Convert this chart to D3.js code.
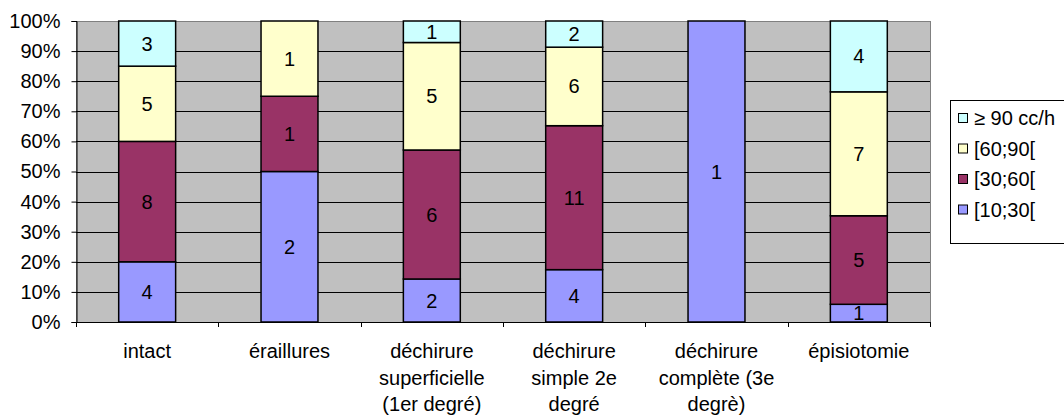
<!DOCTYPE html>
<html>
<head>
<meta charset="utf-8">
<script src="https://cdn.jsdelivr.net/npm/d3@7"></script>
<style>
  body { margin: 0; background: #fff; }
  svg { display: block; font-family: "Liberation Sans", Arial, sans-serif; }
</style>
</head>
<body>
<svg id="chart" width="1064" height="419"></svg>
<script>
// Categories (perineum state), multi-line labels
const categories = ["intact", "éraillures", "déchirure superficielle", "déchirure simple 2e", "déchirure complète", "épisiotomie"];
const categoryLines = [
  ["intact"],
  ["éraillures"],
  ["déchirure", "superficielle", "(1er degré)"],
  ["déchirure", "simple 2e", "degré"],
  ["déchirure", "complète (3e", "degrè)"],
  ["épisiotomie"]
];

// Series, bottom to top of each stack
const seriesNames = ["[10;30[", "[30;60[", "[60;90[", "≥ 90 cc/h"];
const s10_30 = [4, 2, 2, 4, 1, 1];
const s30_60 = [8, 1, 6, 11, 0, 5];
const s60_90 = [5, 1, 5, 6, 0, 7];
const s90plus = [3, 0, 1, 2, 0, 4];
const seriesColors = ["#9999FF", "#993366", "#FFFFCC", "#CCFFFF"];

const yTicks = [0, 0.1, 0.2, 0.3, 0.4, 0.5, 0.6, 0.7, 0.8, 0.9, 1];

const FS = 20;
const svg = d3.select("#chart");
const plot = { left: 76, top: 21, right: 930, bottom: 322 };

const x = d3.scaleBand().domain(categories).range([plot.left, plot.right]).paddingInner(0.6).paddingOuter(0.3);
const xOuter = d3.scaleBand().domain(categories).range([plot.left, plot.right]);
const y = d3.scaleLinear().domain([0, 1]).range([plot.bottom, plot.top]);

// Plot background
svg.append("rect")
  .attr("x", plot.left + 0.5).attr("y", plot.top + 0.5)
  .attr("width", plot.right - plot.left).attr("height", plot.bottom - plot.top)
  .attr("fill", "#C0C0C0").attr("stroke", "#808080").attr("stroke-width", 1);

// Horizontal gridlines
svg.append("g").selectAll("line").data(yTicks.filter(t => t > 0 && t < 1)).join("line")
  .attr("x1", plot.left).attr("x2", plot.right)
  .attr("y1", d => Math.round(y(d)) + 0.5).attr("y2", d => Math.round(y(d)) + 0.5)
  .attr("stroke", "#000").attr("stroke-width", 1);

// Stack data
const rows = categories.map((c, i) => ({
  cat: c,
  s0: s10_30[i], s1: s30_60[i], s2: s60_90[i], s3: s90plus[i]
}));
const stack = d3.stack().keys(["s0", "s1", "s2", "s3"]).offset(d3.stackOffsetExpand);
const layers = stack(rows);

const gBars = svg.append("g");
const gLabels = svg.append("g");
layers.forEach((layer, li) => {
  layer.forEach(d => {
    const v = d.data[layer.key];
    if (v <= 0) return;
    const x0 = x(d.data.cat);
    const yTop = y(d[1]), yBot = y(d[0]);
    gBars.append("rect")
      .attr("x", x0).attr("y", yTop)
      .attr("width", x.bandwidth()).attr("height", yBot - yTop)
      .attr("fill", seriesColors[li]).attr("stroke", "#000").attr("stroke-width", 1.5);
    gLabels.append("text")
      .attr("x", x0 + x.bandwidth() / 2).attr("y", (yTop + yBot) / 2 + 7)
      .attr("text-anchor", "middle")
      .attr("font-size", FS).attr("fill", "#000")
      .text(v);
  });
});

// Y axis
const yAxis = d3.axisLeft(y).tickValues(yTicks).tickFormat(d3.format(".0%")).tickSize(5).tickPadding(11);
const gy = svg.append("g").attr("transform", `translate(${plot.left + 0.5},0)`).call(yAxis);
gy.select(".domain").attr("stroke", "#000");
gy.selectAll(".tick line").attr("stroke", "#000");
gy.selectAll("text").attr("font-size", FS).attr("fill", "#000").attr("font-family", '"Liberation Sans", Arial, sans-serif');

// X axis line and ticks at category boundaries
svg.append("line")
  .attr("x1", plot.left).attr("x2", plot.right)
  .attr("y1", plot.bottom + 0.5).attr("y2", plot.bottom + 0.5)
  .attr("stroke", "#000");
const bounds = categories.map(c => xOuter(c)).concat([plot.right]);
svg.append("g").selectAll("line").data(bounds).join("line")
  .attr("x1", d => Math.round(d) + 0.5).attr("x2", d => Math.round(d) + 0.5)
  .attr("y1", plot.bottom).attr("y2", plot.bottom + 5)
  .attr("stroke", "#000");

// Category labels
const gx = svg.append("g");
categories.forEach((c, i) => {
  const cx = xOuter(c) + xOuter.bandwidth() / 2;
  const t = gx.append("text").attr("text-anchor", "middle").attr("font-size", FS).attr("fill", "#000");
  categoryLines[i].forEach((line, li) => {
    t.append("tspan").attr("x", cx).attr("y", 358 + li * 26.5).text(line);
  });
});

// Legend (top to bottom: highest series first)
const legend = svg.append("g");
legend.append("rect")
  .attr("x", 950.5).attr("y", 100.5).attr("width", 130).attr("height", 143)
  .attr("fill", "#fff").attr("stroke", "#000");
const legendOrder = [3, 2, 1, 0];
legendOrder.forEach((si, k) => {
  const cy = 118 + k * 30.5;
  legend.append("rect")
    .attr("x", 958.5).attr("y", cy - 4.5).attr("width", 9).attr("height", 9)
    .attr("fill", seriesColors[si]).attr("stroke", "#000");
  legend.append("text")
    .attr("x", 974).attr("y", cy + 7)
    .attr("font-size", FS).attr("fill", "#000")
    .text(seriesNames[si]);
});
</script>
</body>
</html>
